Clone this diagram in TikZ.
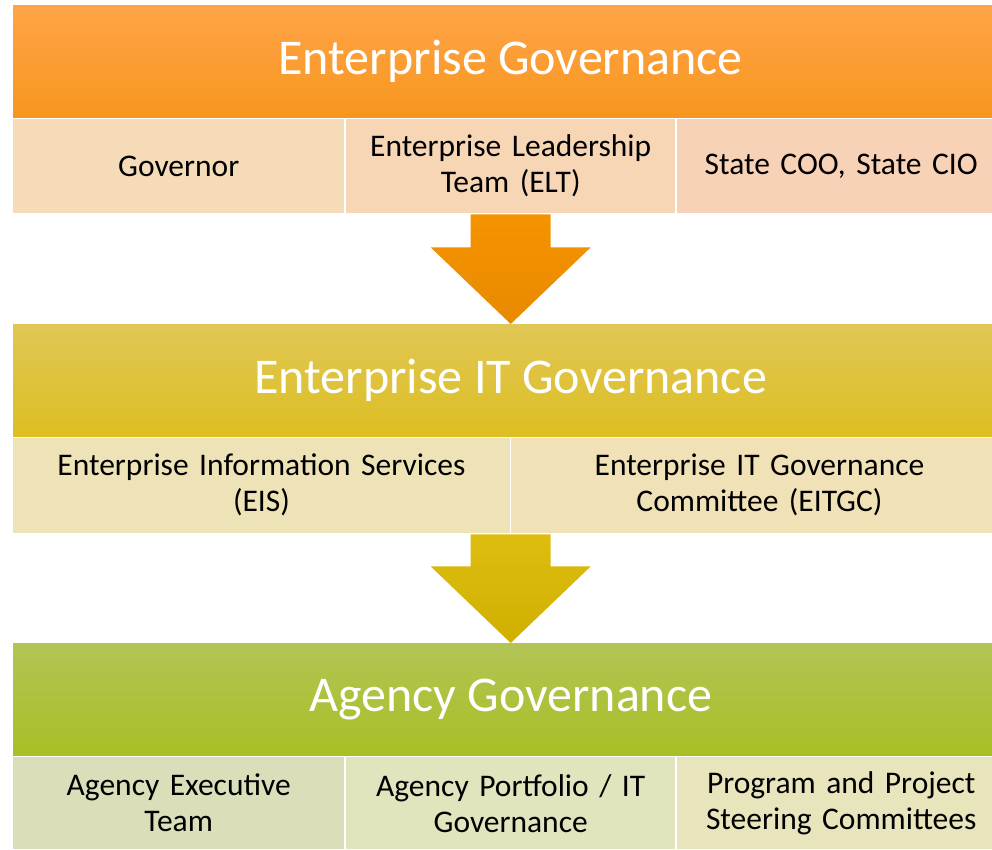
\documentclass[tikz,border=0pt]{standalone}
\usepackage{fontspec}
\setmainfont{Carlito}
\usetikzlibrary{calc}

\definecolor{orangetop}{HTML}{FFA448}
\definecolor{orangebot}{HTML}{F7961E}
\definecolor{goldtop}{HTML}{E0C655}
\definecolor{goldbot}{HTML}{DDBF22}
\definecolor{greentop}{HTML}{B3C455}
\definecolor{greenbot}{HTML}{A9BF25}

\tikzset{
  head/.style={rectangle,anchor=north west,inner sep=0pt,minimum width=995pt,
    minimum height=112pt,text=white,font=\fontsize{50}{60}\selectfont},
  cell/.style={rectangle,anchor=north west,inner sep=0pt,text width=#1,
    align=center,font=\fontsize{31.5}{36}\selectfont},
}

\begin{document}
\begin{tikzpicture}[x=1pt,y=-1pt]
\useasboundingbox (0,0) rectangle (992,849);

% top level
\node[head,top color=orangetop,bottom color=orangebot] (entgov) at (13,5) {Enterprise Governance};
\node[cell=331pt,minimum height=94pt,fill={rgb,255:red,246;green,219;blue,184}] (governor) at (13,119) {Governor};
\node[cell=329pt,minimum height=94pt,fill={rgb,255:red,247;green,214;blue,182}] (elt) at (346,119) {Enterprise Leadership\\Team (ELT)};
\node[cell=328pt,minimum height=94pt,fill={rgb,255:red,248;green,210;blue,183}] (coo) at (677,119) {State COO, State CIO};

% IT level
\node[head,top color=goldtop,bottom color=goldbot] (itgov) at (13,324) {Enterprise IT Governance};
\node[cell=496.5pt,minimum height=95pt,fill={rgb,255:red,238;green,227;blue,183}] (eis) at (13,437.5) {Enterprise Information Services\\(EIS)};
\node[cell=496.5pt,minimum height=95pt,fill={rgb,255:red,240;green,225;blue,183}] (eitgc) at (511,437.5) {Enterprise IT Governance\\Committee (EITGC)};

% agency level
\node[head,top color=greentop,bottom color=greenbot] (agygov) at (13,643) {Agency Governance};
\node[cell=331pt,minimum height=92pt,fill={rgb,255:red,218;green,223;blue,186}] (exec) at (13,757) {Agency Executive\\Team};
\node[cell=329pt,minimum height=92pt,fill={rgb,255:red,225;green,228;blue,188}] (portfolio) at (346,757) {Agency Portfolio / IT\\Governance};
\node[cell=328pt,minimum height=92pt,fill={rgb,255:red,232;green,228;blue,188}] (steering) at (677,757) {Program and Project\\Steering Committees};

% arrows
\shade[top color={rgb,255:red,245;green,147;blue,0},bottom color={rgb,255:red,232;green,138;blue,0}]
  ($(elt.south)+(-40,1)$) -- ($(elt.south)+(40,1)$) -- ($(elt.south)+(40,34)$)
  -- ($(elt.south)+(80,34)$) -- (itgov.north) -- ($(elt.south)+(-80,34)$)
  -- ($(elt.south)+(-40,34)$) -- cycle;
\shade[top color={rgb,255:red,221;green,190;blue,16},bottom color={rgb,255:red,208;green,175;blue,0}]
  ($(itgov.south)+(-40,98)$) -- ($(itgov.south)+(40,98)$) -- ($(itgov.south)+(40,130)$)
  -- ($(itgov.south)+(80,130)$) -- (agygov.north) -- ($(itgov.south)+(-80,130)$)
  -- ($(itgov.south)+(-40,130)$) -- cycle;
\end{tikzpicture}
\end{document}
